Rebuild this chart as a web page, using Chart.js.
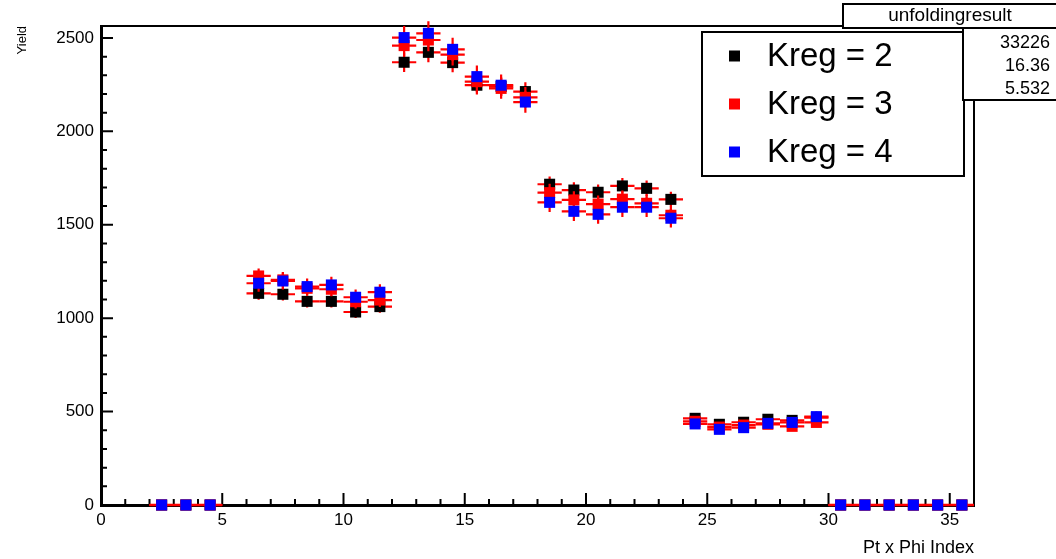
<!DOCTYPE html>
<html>
<head>
<meta charset="utf-8">
<script src="https://cdn.jsdelivr.net/npm/chart.js@4.4.1/dist/chart.umd.min.js"></script>
<style>
  html, body { margin: 0; padding: 0; background: #fff; }
  #wrap { width: 1056px; height: 559px; }
</style>
</head>
<body>
<div id="wrap"><canvas id="unfolding"></canvas></div>
<script>
// bin centres that carry content (Pt x Phi index)
const binCenters = [
  2.5, 3.5, 4.5,
  6.5, 7.5, 8.5, 9.5, 10.5, 11.5,
  12.5, 13.5, 14.5, 15.5, 16.5, 17.5,
  18.5, 19.5, 20.5, 21.5, 22.5, 23.5,
  24.5, 25.5, 26.5, 27.5, 28.5, 29.5,
  30.5, 31.5, 32.5, 33.5, 34.5, 35.5,
];

const kreg2 = [
  0, 0, 0,
  1133, 1128, 1090, 1090, 1033, 1062,
  2370, 2423, 2368, 2247, 2240, 2213,
  1717, 1686, 1674, 1708, 1695, 1636,
  464, 432, 443, 459, 453, 468,
  0, 0, 0, 0, 0, 0,
];
const kreg3 = [
  0, 0, 0,
  1226, 1205, 1160, 1155, 1088, 1097,
  2459, 2489, 2411, 2266, 2230, 2182,
  1672, 1633, 1611, 1637, 1615, 1551,
  448, 417, 428, 432, 421, 442,
  0, 0, 0, 0, 0, 0,
];
const kreg4 = [
  0, 0, 0,
  1187, 1199, 1169, 1178, 1112, 1139,
  2502, 2525, 2439, 2293, 2247, 2157,
  1620, 1572, 1556, 1594, 1594, 1535,
  434, 405, 414, 437, 442, 473,
  0, 0, 0, 0, 0, 0,
];

const err2 = [
  0, 0, 0,
  34, 34, 33, 33, 32, 33,
  52, 53, 52, 50, 50, 50,
  42, 42, 41, 42, 42, 41,
  20, 19, 19, 20, 20, 20,
  0, 0, 0, 0, 0, 0,
];
const err3 = [
  0, 0, 0,
  40, 42, 38, 38, 36, 37,
  58, 60, 58, 56, 55, 55,
  47, 47, 46, 47, 47, 46,
  23, 22, 22, 23, 23, 24,
  0, 0, 0, 0, 0, 0,
];
const err4 = [
  0, 0, 0,
  45, 46, 44, 44, 42, 43,
  62, 64, 62, 60, 58, 58,
  52, 52, 50, 52, 52, 50,
  26, 25, 25, 26, 26, 27,
  0, 0, 0, 0, 0, 0,
];

const seriesLabels = ["Kreg = 2", "Kreg = 3", "Kreg = 4"];
const seriesColors = ["#000000", "#ff0000", "#0000ff"];

const xTicks = [0, 5, 10, 15, 20, 25, 30, 35];
const yTicks = [0, 500, 1000, 1500, 2000, 2500];

const statsName = "unfoldingresult";
const statsValues = ["33226", "16.36", "5.532"];

const FONT = "'Liberation Sans', Arial, Helvetica, sans-serif";

const toPoints = (vals, errs) =>
  binCenters.map((x, i) => ({ x: x, y: vals[i], err: errs[i] }));

// red error bars under each series' markers (ROOT style: bin width + stat error)
const errorBars = {
  id: "errorBars",
  beforeDatasetDraw(chart, args) {
    const { ctx, scales: { x, y } } = chart;
    const ds = chart.data.datasets[args.index];
    ctx.save();
    ctx.strokeStyle = "#ff0000";
    ctx.lineWidth = 2.2;
    ds.data.forEach((p) => {
      const px = x.getPixelForValue(p.x);
      const py = y.getPixelForValue(p.y);
      ctx.beginPath();
      ctx.moveTo(x.getPixelForValue(p.x - 0.5), py);
      ctx.lineTo(x.getPixelForValue(p.x + 0.5), py);
      if (p.err > 0) {
        ctx.moveTo(px, y.getPixelForValue(p.y - p.err));
        ctx.lineTo(px, y.getPixelForValue(p.y + p.err));
      }
      ctx.stroke();
    });
    ctx.restore();
  },
};

// inward tick marks, top/right frame, legend and stats box
const frame = {
  id: "frame",
  beforeDatasetsDraw(chart) {
    const { ctx, chartArea: a, scales: { x, y } } = chart;
    ctx.save();
    ctx.strokeStyle = "#000";
    ctx.lineWidth = 2;
    ctx.beginPath();
    for (let v = 0; v <= 36; v++) {
      const px = x.getPixelForValue(v);
      const len = v % 5 === 0 ? 12 : 6;
      ctx.moveTo(px, a.bottom);
      ctx.lineTo(px, a.bottom - len);
    }
    for (let v = 0; v <= 2500; v += 100) {
      const py = y.getPixelForValue(v);
      const len = v % 500 === 0 ? 12 : 6;
      ctx.moveTo(a.left, py);
      ctx.lineTo(a.left + len, py);
    }
    ctx.stroke();
    ctx.beginPath();
    ctx.moveTo(a.left, a.top);
    ctx.lineTo(a.right, a.top);
    ctx.lineTo(a.right, a.bottom);
    ctx.stroke();
    ctx.restore();
  },
  afterDraw(chart) {
    const { ctx } = chart;
    ctx.save();
    ctx.lineWidth = 2;
    ctx.strokeStyle = "#000";

    // legend
    ctx.fillStyle = "#fff";
    ctx.fillRect(702, 32, 262, 144);
    ctx.strokeRect(702, 32, 262, 144);
    ctx.textAlign = "left";
    ctx.textBaseline = "middle";
    ctx.font = "33px " + FONT;
    chart.data.datasets.forEach((ds, i) => {
      const cy = 56 + i * 48;
      ctx.fillStyle = ds.backgroundColor;
      ctx.fillRect(729, cy - 5.5, 11, 11);
      ctx.fillStyle = "#000";
      ctx.fillText(ds.label, 767, cy + 1);
    });

    // stats box
    ctx.fillStyle = "#fff";
    ctx.fillRect(963, 28, 100, 72);
    ctx.strokeRect(963, 28, 100, 72);
    ctx.fillRect(843, 4, 220, 24);
    ctx.strokeRect(843, 4, 220, 24);
    ctx.fillStyle = "#000";
    ctx.textAlign = "center";
    ctx.font = "19px " + FONT;
    ctx.fillText(statsName, 950, 16);
    ctx.textAlign = "right";
    ctx.font = "18px " + FONT;
    statsValues.forEach((s, i) => ctx.fillText(s, 1050, 43 + i * 23));
    ctx.restore();
  },
};

const datasetFor = (i, vals, errs) => ({
  label: seriesLabels[i],
  data: toPoints(vals, errs),
  backgroundColor: seriesColors[i],
  borderWidth: 0,
  pointStyle: "rect",
  pointRadius: 7.8,
  pointHoverRadius: 7.8,
  showLine: false,
  clip: false,
  order: 2 - i,
});

new Chart(document.getElementById("unfolding"), {
  type: "scatter",
  data: {
    datasets: [
      datasetFor(0, kreg2, err2),
      datasetFor(1, kreg3, err3),
      datasetFor(2, kreg4, err4),
    ],
  },
  options: {
    responsive: true,
    maintainAspectRatio: false,
    animation: false,
    events: [],
    layout: { padding: { top: 26, right: 82, left: 0, bottom: 0 } },
    plugins: { legend: { display: false }, tooltip: { enabled: false } },
    scales: {
      x: {
        type: "linear",
        min: 0,
        max: 36,
        afterFit: (s) => { s.height = 54; },
        afterBuildTicks: (s) => { s.ticks = xTicks.map((v) => ({ value: v })); },
        grid: { display: false, drawTicks: false },
        border: { display: true, color: "#000", width: 3 },
        ticks: {
          color: "#000", padding: 5, maxRotation: 0,
          font: { family: FONT, size: 17 },
          callback: (v) => String(v),
        },
        title: {
          display: true, text: "Pt x Phi Index", align: "end", color: "#000",
          padding: { top: 0, bottom: 0 }, font: { family: FONT, size: 18 },
        },
      },
      y: {
        type: "linear",
        min: 0,
        max: 2564,
        afterFit: (s) => { s.width = 101; },
        afterBuildTicks: (s) => { s.ticks = yTicks.map((v) => ({ value: v })); },
        grid: { display: false, drawTicks: false },
        border: { display: true, color: "#000", width: 3 },
        ticks: {
          color: "#000", padding: 7,
          font: { family: FONT, size: 17 },
          callback: (v) => String(v),
        },
        title: {
          display: true, text: "Yield", align: "end", color: "#000",
          padding: { top: 15, bottom: 0 }, font: { family: FONT, size: 13 },
        },
      },
    },
  },
  plugins: [errorBars, frame],
});
</script>
</body>
</html>
